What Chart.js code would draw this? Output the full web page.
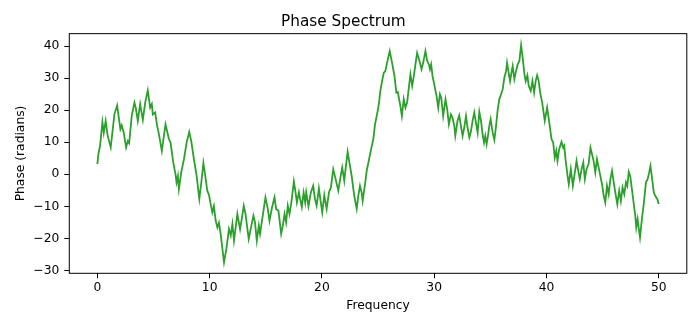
<!DOCTYPE html>
<html>
<head>
<meta charset="utf-8">
<title>Phase Spectrum</title>
<script src="https://cdn.jsdelivr.net/npm/chart.js@4/dist/chart.umd.min.js"></script>
<style>
  html, body { margin: 0; padding: 0; background: #fff; }
  #wrap { width: 700px; height: 327px; }
</style>
</head>
<body>
<div id="wrap"><canvas id="phase-chart" width="700" height="327"></canvas></div>
<script>
// frequency bins of the trace
const freqs = [
    0, 0.09, 0.24, 0.45, 0.57, 0.74, 0.92, 1.19, 1.52, 1.76,
    2.05, 2.17, 2.35, 2.56, 2.71, 2.83, 3.06, 3.30, 3.42, 3.60,
    3.81, 4.05, 4.26, 4.49, 4.70, 4.85, 4.94, 5.15, 5.30, 5.51,
    5.74, 6.07, 6.37, 6.52, 6.76, 6.96, 7.05, 7.17, 7.26, 7.47,
    7.71, 7.95, 8.18, 8.36, 8.60, 8.84, 9.08, 9.26, 9.44, 9.61,
    9.79, 9.94, 10.09, 10.24, 10.38, 10.54, 10.69, 10.83, 10.98, 11.28,
    11.49, 11.72, 11.88, 12.03, 12.17, 12.47, 12.71, 12.88, 13.04, 13.19,
    13.48, 13.69, 13.90, 14.04, 14.20, 14.38, 14.49, 14.73, 14.97, 15.18,
    15.33, 15.56, 15.78, 15.92, 16.13, 16.37, 16.52, 16.67, 16.81, 16.96,
    17.11, 17.26, 17.50, 17.65, 17.77, 17.95, 18.06, 18.21, 18.37, 18.51,
    18.60, 18.80, 19.02, 19.22, 19.38, 19.53, 19.73, 19.88, 20.03, 20.21,
    20.42, 20.63, 20.80, 21.01, 21.22, 21.46, 21.67, 21.81, 21.99, 22.14,
    22.29, 22.50, 22.65, 22.88, 23.10, 23.24, 23.39, 23.54, 23.63, 23.84,
    23.99, 24.20, 24.38, 24.58, 24.73, 24.97, 25.09, 25.20, 25.36, 25.51,
    25.65, 25.80, 26.04, 26.25, 26.46, 26.63, 26.76, 26.85, 26.99, 27.12,
    27.29, 27.44, 27.59, 27.74, 27.88, 28.04, 28.19, 28.33, 28.48, 28.69,
    28.87, 29.02, 29.22, 29.38, 29.53, 29.62, 29.73, 29.85, 30.03, 30.21,
    30.36, 30.51, 30.63, 30.80, 31.01, 31.16, 31.31, 31.49, 31.63, 31.79,
    31.88, 32.08, 32.23, 32.38, 32.53, 32.68, 32.83, 32.97, 33.13, 33.28,
    33.42, 33.57, 33.72, 33.87, 34.02, 34.17, 34.31, 34.44, 34.55, 34.67,
    34.79, 34.91, 35.03, 35.21, 35.36, 35.51, 35.66, 35.80, 35.96, 36.10,
    36.25, 36.40, 36.49, 36.63, 36.76, 36.88, 36.99, 37.14, 37.29, 37.44,
    37.59, 37.74, 37.88, 38.04, 38.15, 38.30, 38.42, 38.60, 38.75, 38.90,
    39.04, 39.17, 39.31, 39.44, 39.62, 39.85, 40.06, 40.21, 40.45, 40.60,
    40.74, 40.87, 40.98, 41.13, 41.34, 41.49, 41.58, 41.73, 41.88, 41.99,
    42.17, 42.35, 42.53, 42.68, 42.83, 42.97, 43.13, 43.28, 43.42, 43.57,
    43.75, 43.92, 44.20, 44.35, 44.50, 44.65, 44.80, 44.95, 45.10, 45.24,
    45.39, 45.54, 45.69, 45.84, 45.99, 46.13, 46.31, 46.48, 46.63, 46.78,
    46.93, 47.08, 47.20, 47.33, 47.46, 47.61, 47.76, 47.91, 48.00, 48.12,
    48.21, 48.33, 48.50, 48.68, 48.86, 49.01, 49.15, 49.26, 49.38, 49.56,
    49.69, 49.87, 50.00
];

// unwrapped phase at each bin, radians
const phase = [
    3.2, 6.3, 8.9, 16.3, 13.0, 16.7, 12.0, 8.4, 18.8, 21.5,
    14.1, 15.3, 13.0, 8.4, 10.4, 9.7, 18.2, 22.4, 20.8, 16.7,
    21.9, 17.0, 22.4, 26.2, 20.8, 21.9, 18.7, 19.3, 15.6, 12.0,
    7.3, 15.6, 11.0, 9.9, 3.7, 0.0, -2.5, -0.5, -4.6, 0.6,
    4.7, 9.9, 13.2, 10.4, 4.7, -0.5, -7.7, -2.5, 3.5, -0.5,
    -5.1, -6.4, -9.3, -11.9, -9.9, -14.5, -16.6, -15.1, -18.6, -27.5,
    -23.3, -17.1, -19.1, -15.5, -20.7, -12.4, -17.1, -13.5, -9.8, -12.3,
    -20.2, -16.5, -12.9, -15.0, -20.7, -16.0, -18.6, -12.9, -7.2, -10.8,
    -14.5, -10.3, -7.2, -10.8, -11.4, -18.6, -16.0, -12.4, -15.0, -9.8,
    -12.4, -9.3, -2.2, -5.6, -8.8, -5.6, -7.7, -10.2, -5.7, -8.8,
    -5.6, -10.0, -5.6, -3.6, -7.7, -9.8, -4.4, -8.3, -11.9, -6.5,
    -10.8, -5.6, -4.1, 1.6, -1.5, -5.1, -0.5, 2.1, -2.0, 2.6,
    7.0, 2.6, -0.5, -6.7, -10.8, -6.7, -3.6, -5.7, -8.3, -3.1,
    1.1, 4.7, 7.8, 11.0, 15.6, 19.8, 22.4, 26.0, 29.1, 31.7,
    32.2, 34.8, 38.5, 34.8, 30.7, 25.5, 25.7, 23.9, 21.3, 18.2,
    23.4, 20.8, 22.4, 27.0, 31.2, 27.6, 30.7, 34.3, 37.9, 35.4,
    32.8, 34.8, 38.5, 35.4, 34.3, 32.8, 34.3, 30.7, 27.6, 24.5,
    20.8, 25.0, 23.9, 18.2, 23.4, 20.3, 15.6, 18.7, 17.7, 15.1,
    12.0, 16.7, 18.4, 15.1, 12.0, 14.6, 18.2, 14.6, 11.5, 13.5,
    16.7, 19.3, 16.1, 13.0, 19.5, 16.7, 12.5, 9.9, 12.0, 9.4,
    12.0, 15.1, 17.2, 13.0, 10.7, 15.1, 20.3, 23.4, 25.0, 26.5,
    30.2, 32.2, 34.8, 31.7, 29.1, 31.7, 33.8, 29.7, 32.2, 34.3,
    35.4, 40.3, 36.4, 31.2, 29.1, 30.9, 27.6, 26.0, 29.1, 25.5,
    29.1, 30.9, 29.1, 25.5, 22.4, 16.7, 20.8, 17.2, 11.0, 9.9,
    5.2, 7.3, 4.2, 7.8, 10.1, 8.3, 8.9, 3.7, -0.5, -3.1,
    1.6, -3.6, 0.6, 4.2, 1.1, -1.5, 1.6, 3.7, -1.5, 1.6,
    3.2, 8.3, 4.2, 0.6, 4.7, 2.1, -0.5, -3.1, -6.7, -8.8,
    -3.6, -6.2, -1.5, 1.1, -2.5, -5.6, -9.3, -5.1, -8.3, -4.1,
    -6.2, -2.5, -3.6, 0.8, -0.5, -4.6, -8.8, -12.9, -16.6, -14.0,
    -16.6, -19.7, -14.0, -8.8, -2.5, -1.5, 0.6, 2.6, -0.5, -5.7,
    -6.7, -7.7, -9.3
];

const xTicks = [0, 10, 20, 30, 40, 50];
const yTicks = [-30, -20, -10, 0, 10, 20, 30, 40];

const FONT = "'DejaVu Sans', sans-serif";

// matplotlib-style minus sign on negative tick labels
const fmtTick = (v) => (v < 0 ? "\u2212" + Math.abs(v) : String(v));

// box around the plotting area
const frameBox = {
    id: "frameBox",
    afterDatasetsDraw(chart) {
        const { ctx, chartArea: a } = chart;
        ctx.save();
        ctx.strokeStyle = "#000";
        ctx.lineWidth = 1;
        ctx.strokeRect(a.left, a.top, a.right - a.left, a.bottom - a.top);
        ctx.restore();
    },
};

const points = freqs.map((f, i) => ({ x: f, y: phase[i] }));

new Chart(document.getElementById("phase-chart"), {
    type: "line",
    data: {
        datasets: [
            {
                label: "phase",
                data: points,
                borderColor: "#2ca02c",
                borderWidth: 1.8,
                pointRadius: 0,
                tension: 0,
                fill: false,
            },
        ],
    },
    options: {
        responsive: false,
        animation: false,
        devicePixelRatio: 1,
        layout: { padding: { left: 0, right: 13.2, top: 0, bottom: 0 } },
        plugins: {
            legend: { display: false },
            tooltip: { enabled: false },
            title: {
                display: true,
                text: "Phase Spectrum",
                color: "#000",
                font: { family: FONT, size: 15.3, weight: "normal", lineHeight: 1.2 },
                padding: { top: 13, bottom: 2.3 },
            },
        },
        scales: {
            x: {
                type: "linear",
                min: -2.5,
                max: 52.5,
                afterFit: (scale) => { scale.height = 53.7; },
                afterBuildTicks: (scale) => {
                    scale.ticks = xTicks.map((v) => ({ value: v }));
                },
                border: { display: false },
                grid: {
                    drawOnChartArea: false,
                    drawTicks: true,
                    tickLength: 5,
                    tickColor: "#000",
                    tickWidth: 1,
                },
                ticks: {
                    color: "#000",
                    padding: 2,
                    maxRotation: 0,
                    font: { family: FONT, size: 12.3 },
                    callback: fmtTick,
                },
                title: {
                    display: true,
                    text: "Frequency",
                    color: "#000",
                    font: { family: FONT, size: 12.3, lineHeight: 1.2 },
                    padding: { top: 0, bottom: 13.6 },
                },
            },
            y: {
                type: "linear",
                min: -30.9,
                max: 43.9,
                afterFit: (scale) => { scale.width = 69.3; },
                afterBuildTicks: (scale) => {
                    scale.ticks = yTicks.map((v) => ({ value: v }));
                },
                border: { display: false },
                grid: {
                    drawOnChartArea: false,
                    drawTicks: true,
                    tickLength: 5,
                    tickColor: "#000",
                    tickWidth: 1,
                },
                ticks: {
                    color: "#000",
                    padding: 5,
                    font: { family: FONT, size: 12.3 },
                    callback: fmtTick,
                },
                title: {
                    display: true,
                    text: "Phase (radians)",
                    color: "#000",
                    font: { family: FONT, size: 12.3, lineHeight: 1.2 },
                    padding: { top: 13.6, bottom: 0 },
                },
            },
        },
    },
    plugins: [frameBox],
});
</script>
</body>
</html>
